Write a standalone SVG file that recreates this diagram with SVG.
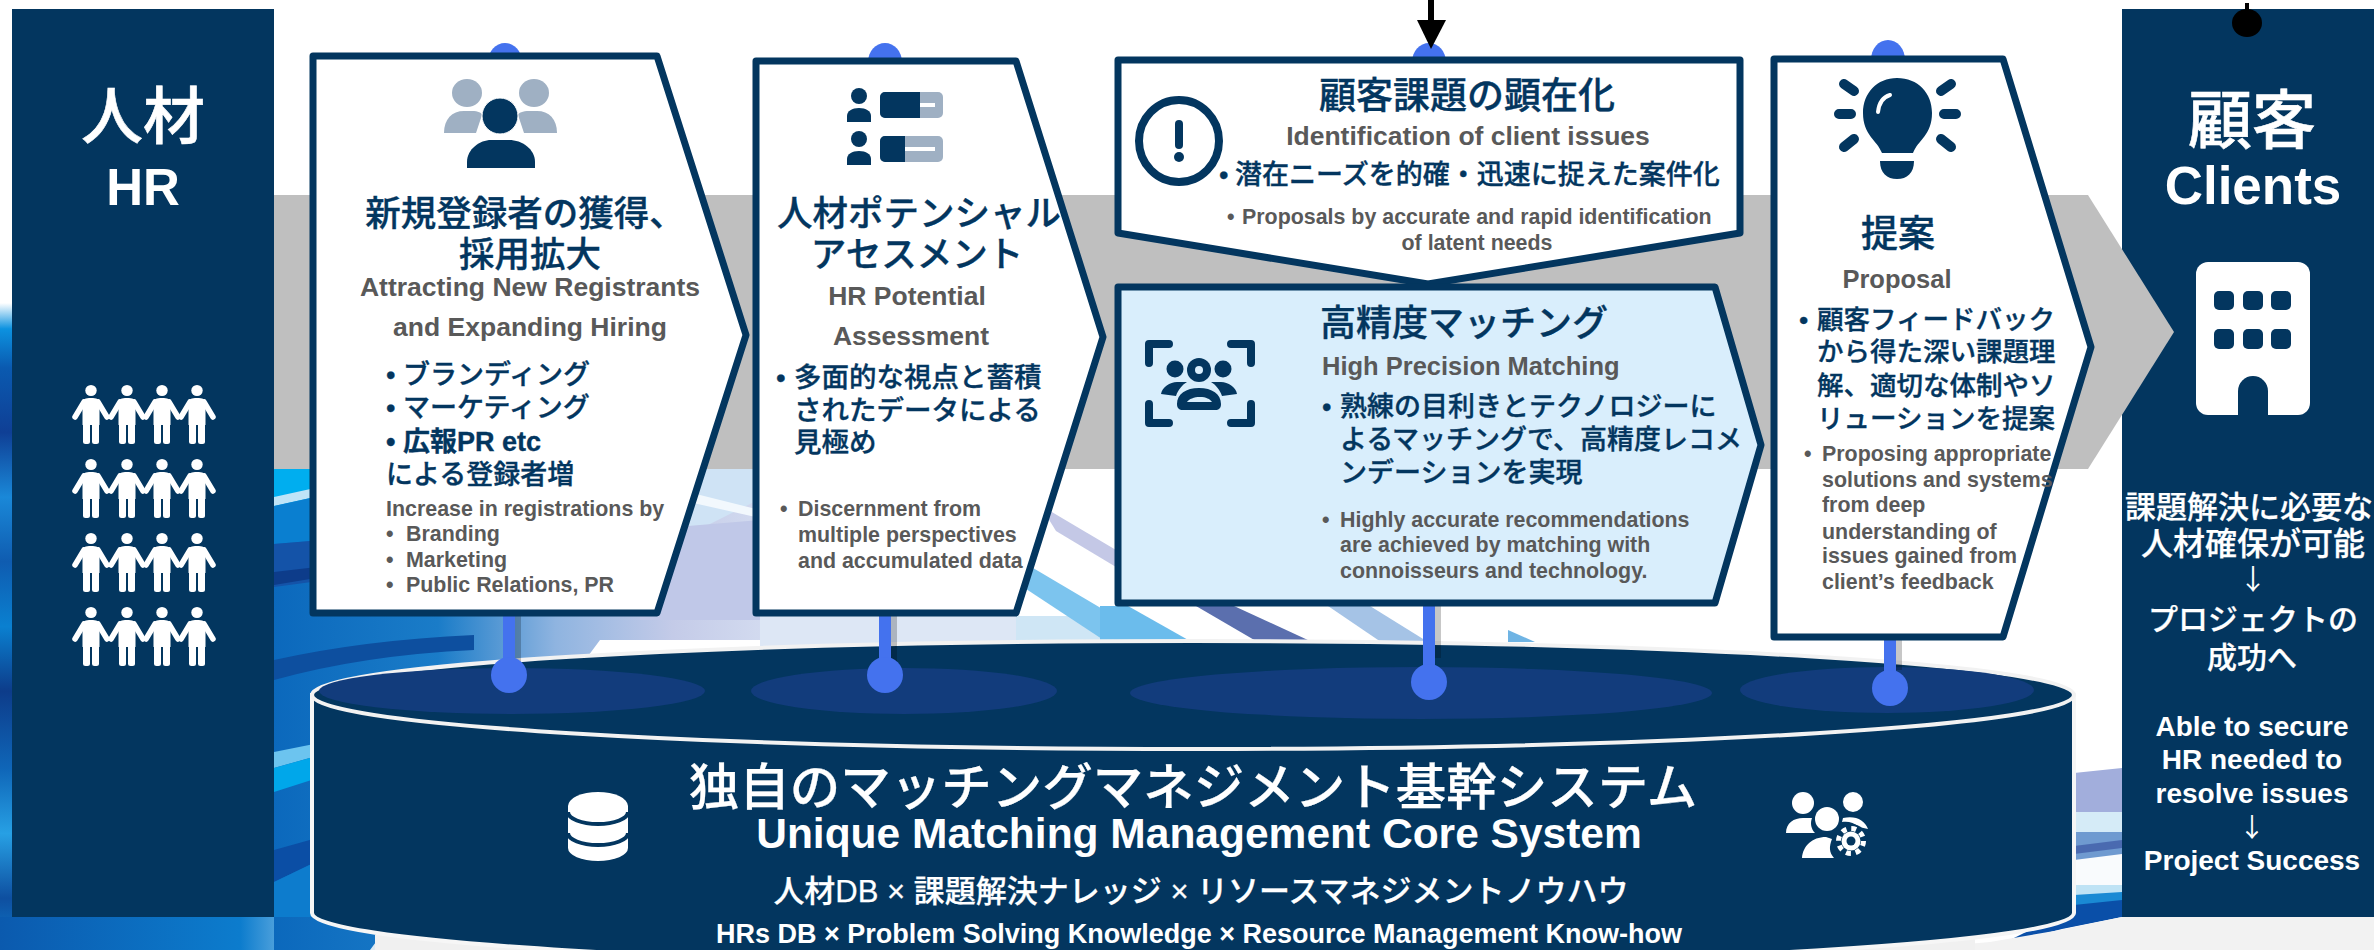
<svg xmlns="http://www.w3.org/2000/svg" width="2374" height="950" viewBox="0 0 2374 950">
<defs>
<style>
text{font-family:"Liberation Sans","Noto Sans CJK JP",sans-serif}
.jt{fill:#03365f;stroke:#03365f;stroke-width:.35;font-weight:500}
.en{fill:#595959;font-weight:700}
.w{fill:#fff}
.wj{fill:#fff;stroke:#fff;stroke-width:.25;font-weight:500}
.b{font-weight:700}
.ar{font-family:"Noto Sans CJK JP",sans-serif;fill:#fff}
.card{stroke:#03365f;stroke-width:7;stroke-linejoin:round;fill:#fff}
.pin{fill:#4472ee}
.nv{fill:#03365f}
.gy{fill:#9fb0c3}
</style>
<linearGradient id="bgL" gradientUnits="userSpaceOnUse" x1="270" y1="0" x2="1110" y2="0"><stop offset="0" stop-color="#0b68bc"/><stop offset=".2" stop-color="#1a7cc8"/><stop offset=".34" stop-color="#8fb4e0"/><stop offset=".48" stop-color="#c4cbe8"/><stop offset=".68" stop-color="#dfe8f6"/><stop offset=".9" stop-color="#f4f8fc"/><stop offset="1" stop-color="#ffffff"/></linearGradient>
<linearGradient id="bgS" x1="0" y1="0" x2="0" y2="1"><stop offset="0" stop-color="#ffffff"/><stop offset=".04" stop-color="#0c92e0"/><stop offset=".1" stop-color="#0a5ab0"/><stop offset=".2" stop-color="#0f3f95"/><stop offset=".3" stop-color="#1a88d8"/><stop offset=".4" stop-color="#0f5cb0"/><stop offset=".5" stop-color="#0a80d0"/><stop offset=".6" stop-color="#0d3c8a"/><stop offset=".72" stop-color="#0f66b8"/><stop offset=".82" stop-color="#27a0e4"/><stop offset=".92" stop-color="#0e4fa0"/><stop offset="1" stop-color="#0d7ccd"/></linearGradient>
<linearGradient id="bgB" gradientUnits="userSpaceOnUse" x1="0" y1="0" x2="400" y2="0"><stop offset="0" stop-color="#0b5aae"/><stop offset=".6" stop-color="#0c7ccd"/><stop offset=".85" stop-color="#bfe0f6"/><stop offset="1" stop-color="#f0f0f0"/></linearGradient>
<g id="p"><ellipse cx="0" cy="5.5" rx="5.7" ry="5.5" fill="#fff"/><path d="M-8.5 16c0-1.500 3-3 8.500-3s8.500 1.500 8.500 3v24h-17z" fill="#fff"/><rect x="-8" y="34" width="7" height="25" rx="2.500" fill="#fff"/><rect x="1" y="34" width="7" height="25" rx="2.500" fill="#fff"/><path d="M-7 17L-16 32M7 17L16 32" stroke="#fff" stroke-width="5.500" stroke-linecap="round"/></g>
<g id="row"><use href="#p" x="91"/><use href="#p" x="127"/><use href="#p" x="162"/><use href="#p" x="197"/></g>
</defs>
<rect width="2374" height="950" fill="#fff"/>
<g id="background">
<rect x="0" y="303" width="12" height="647" fill="url(#bgS)"/>
<rect x="0" y="917" width="400" height="33" fill="url(#bgB)"/>
<path d="M274 469H760V640H600L370 950H274Z" fill="url(#bgL)"/>
<path d="M274 469h50v30l-50 8z" fill="#00aeef"/>
<path d="M274 497l50-11v9l-50 11z" fill="#bfe4f8"/>
<path d="M274 506l50-11v45l-50 4z" fill="#0a7fd0"/>
<path d="M274 544l60-5v40l-60 8z" fill="#1453a8"/>
<path d="M274 572l60-7v10l-60 10z" fill="#0d3c8a"/>
<path d="M274 660q90-20 200-25v15q-110 5-200 30z" fill="#0d4f9f"/>
<path d="M274 752l50-10v12l-50 14z" fill="#6cc4ef"/>
<path d="M274 768l50-14v22l-50 16z" fill="#00a7ea"/>
<path d="M274 850l50-14v22l-50 24z" fill="#0b4ea5"/>
<path d="M274 882l50-24v59h-50z" fill="#0d7ccd"/>
<path d="M650 469h110v30l-80 40-40-10z" fill="#cfe3f5"/>
<path d="M680 490l80 20v8l-80-18z" fill="#f2f8fd"/>
<path d="M640 530l120-10v100h-120z" fill="#c0c8e8"/>
<path d="M760 616h260v34H760z" fill="#dde7f5"/>
<path d="M1016 616h100v30h-100z" fill="#cfe6f5"/>
<path d="M1040 505l76 45v17l-60-36z" fill="#c4c8e6"/>
<path d="M1028 565l88 52v22h-14l-85-56z" fill="#7cc4ee"/>
<path d="M1100 606h28l62 35h-90z" fill="#6bbcec"/>
<path d="M1196 606h38l76 35h-54z" fill="#5b6fae"/>
<path d="M1328 606h42l58 36h-47z" fill="#a5c3e6"/>
<path d="M1508 630l27 12h-27z" fill="#6fb4e4"/>
<path d="M2074 773l48-5v44h-48z" fill="#a2aedc"/>
<path d="M2074 812h48v20h-48z" fill="#d5ebf7"/>
<path d="M2074 832h48v28h-48z" fill="#6f9ad0"/>
<path d="M2074 846l48-6v8l-48 6z" fill="#4a6ab0"/>
<path d="M2074 860l48-6v36h-48z" fill="#f9fbfd"/>
<path d="M2074 885h48v10h-48z" fill="#bfe3f5"/>
<path d="M2074 895l48-3v10l-48 5z" fill="#1a8ad4"/>
<path d="M2074 905l48-5v17l-60 12-62 16 60-30z" fill="#0a4fa8"/>
<path d="M2122 917H2374V950H1900L1990 942 2060 930Z" fill="#f2f2f2"/>
<rect x="375" y="935" width="1600" height="15" fill="#f0f0f0"/>
</g>
<rect x="274" y="195" width="1814" height="274" fill="#bfbfbf"/>
<g id="panel-hr"><rect x="12" y="9" width="262" height="908" class="nv"/>
<text x="143" y="139" font-size="62" text-anchor="middle" class="wj" style="stroke-width:.6">人材</text>
<text x="143" y="205" font-size="51" text-anchor="middle" class="w b">HR</text>
<use href="#row" y="385"/><use href="#row" y="459"/><use href="#row" y="533"/><use href="#row" y="607"/></g>
<g id="panel-clients"><rect x="2122" y="9" width="252" height="908" class="nv"/>
<path d="M2088 195L2174 332L2088 469H2060V195Z" fill="#bfbfbf"/>
<text x="2252" y="143" font-size="64" text-anchor="middle" class="wj" style="stroke-width:.6">顧客</text>
<text x="2253" y="204" font-size="53" text-anchor="middle" class="w b">Clients</text>
<rect x="2196" y="262" width="114" height="153" rx="12" fill="#fff"/>
<g class="nv"><rect x="2214" y="291" width="20" height="19" rx="5"/><rect x="2243" y="291" width="20" height="19" rx="5"/><rect x="2271" y="291" width="20" height="19" rx="5"/><rect x="2214" y="329" width="20" height="20" rx="5"/><rect x="2243" y="329" width="20" height="20" rx="5"/><rect x="2271" y="329" width="20" height="20" rx="5"/><path d="M2238 415v-24a15 15 0 0 1 30 0v24z"/></g>
<g class="wj" text-anchor="middle"><text x="2249" y="518" font-size="31">課題解決に必要な</text><text x="2253" y="555" font-size="32">人材確保が可能</text><text x="2253" y="630" font-size="30">プロジェクトの</text><text x="2252" y="668" font-size="30">成功へ</text></g>
<text x="2253" y="590" font-size="28" text-anchor="middle" class="ar">↓</text>
<g class="w b" text-anchor="middle" font-size="28"><text x="2252" y="736">Able to secure</text><text x="2252" y="769">HR needed to</text><text x="2252" y="803">resolve issues</text><text x="2252" y="870">Project Success</text></g>
<text x="2252" y="837" font-size="26" text-anchor="middle" class="ar">↓</text></g>
<g id="connectors">
<g class="pin"><ellipse cx="505" cy="62" rx="17" ry="19"/><ellipse cx="885" cy="62" rx="17" ry="19"/><ellipse cx="1429" cy="62" rx="17" ry="19"/><ellipse cx="1888" cy="60" rx="17" ry="20"/></g>
</g>
<g id="cylinder">
<path d="M312 695V913A881 53 0 0 0 2074 913V695Z" class="nv" stroke="#f6f6f6" stroke-width="4"/>
<ellipse cx="1193" cy="695" rx="881" ry="54" class="nv" stroke="#f2f2f2" stroke-width="4"/>
<g fill="#123c7c"><ellipse cx="512" cy="691" rx="193" ry="23"/><ellipse cx="904" cy="691" rx="153" ry="23"/><ellipse cx="1421" cy="693" rx="291" ry="26"/><ellipse cx="1887" cy="690" rx="147" ry="23"/></g>
<g text-anchor="middle"><text x="1193" y="805" font-size="50.500" class="wj">独自のマッチングマネジメント基幹システム</text><text x="1199" y="848" font-size="42.500" class="w b">Unique Matching Management Core System</text><text x="1201" y="902" font-size="31" class="wj">人材DB × 課題解決ナレッジ × リソースマネジメントノウハウ</text><text x="1199" y="943" font-size="27" class="w b">HRs DB × Problem Solving Knowledge × Resource Management Know-how</text></g>
<g id="icon-db"><path d="M568 806a30 14 0 0 1 60 0v42a30 13 0 0 1-60 0z" fill="#fff"/><path d="M568 812a30 12 0 0 0 60 0M568 833a30 12 0 0 0 60 0" fill="none" stroke="#03365f" stroke-width="4"/></g>
<g id="icon-team"><g fill="#fff"><circle cx="1803" cy="803" r="11"/><circle cx="1853" cy="802" r="10"/><path d="M1786 833c0-10 8-15 17-15h9c-2 5-1 11 3 15z"/><path d="M1843 818c12-3 22 2 25 11l-9-2c-5-5-12-6-17-5z"/><circle cx="1827" cy="819" r="12"/><path d="M1802 858c1-12 10-21 24-21l6 2c-3 8-3 13 2 19z"/></g>
<circle cx="1851" cy="841" r="17" class="nv"/><circle cx="1851" cy="841" r="9.500" fill="#fff"/><circle cx="1851" cy="841" r="12.500" fill="none" stroke="#fff" stroke-width="5" stroke-dasharray="5 4.800"/><circle cx="1851" cy="841" r="4.500" class="nv"/></g>
</g>
<g id="pins"><g fill="#000" opacity=".22"><rect x="515" y="612" width="6" height="50"/><rect x="891" y="612" width="6" height="50"/><rect x="1435" y="602" width="6" height="56"/><rect x="1896" y="635" width="6" height="35"/></g>
<g class="pin"><rect x="503" y="610" width="12" height="60"/><ellipse cx="509" cy="675" rx="18" ry="18"/><rect x="879" y="610" width="12" height="60"/><ellipse cx="885" cy="675" rx="18" ry="18"/><rect x="1423" y="600" width="12" height="70"/><ellipse cx="1429" cy="682" rx="18" ry="18"/><rect x="1884" y="635" width="12" height="40"/><ellipse cx="1890" cy="688" rx="18" ry="18"/></g></g>
<g id="node-registrants"><path class="card" d="M313 56H657L746 335L657 613H313Z"/>
<g class="gy"><ellipse cx="467" cy="93" rx="15" ry="14"/><ellipse cx="534" cy="93" rx="15" ry="14"/><path d="M444 133c0-14 8-22 20-22h8c6 0 10 2 10 4l-6 18z"/><path d="M557 133c0-14-8-22-20-22h-8c-6 0-11 2-11 4l6 18z"/></g>
<g class="nv"><ellipse cx="500" cy="116" rx="18" ry="18" stroke="#fff"/><path d="M467 168v-6c0-13 13-22 24-22h18c13 0 26 9 26 22v6z"/></g>
<g class="jt" text-anchor="middle" font-size="35.500"><text x="525" y="226">新規登録者の獲得、</text><text x="530" y="267">採用拡大</text></g>
<g class="en" text-anchor="middle" font-size="26.500"><text x="530" y="296">Attracting New Registrants</text><text x="530" y="336">and Expanding Hiring</text></g>
<g class="jt" font-size="27"><text x="386" y="384">• ブランディング</text><text x="386" y="417">• マーケティング</text><text x="386" y="451" class="b">• 広報PR etc</text><text x="386" y="484">による登録者増</text></g>
<g class="en" font-size="21.400"><text x="386" y="516">Increase in registrations by</text><text x="386" y="541">•</text><text x="406" y="541">Branding</text><text x="386" y="567">•</text><text x="406" y="567">Marketing</text><text x="386" y="592">•</text><text x="406" y="592">Public Relations, PR</text></g></g>
<g id="node-assessment"><path class="card" d="M756 61H1016L1103 337L1016 613H756Z"/>
<g class="nv"><ellipse cx="859" cy="96" rx="8" ry="8"/><path d="M847 122v-6c0-5 5-8 12-8s12 3 12 8v6z"/><ellipse cx="859" cy="139" rx="8" ry="8"/><path d="M847 165v-6c0-5 5-8 12-8s12 3 12 8v6z"/></g>
<rect x="880" y="92" width="63" height="26" rx="5" class="gy"/><rect x="880" y="136" width="63" height="26" rx="5" class="gy"/><rect x="920" y="103" width="15" height="4" fill="#fff"/><rect x="905" y="147" width="30" height="4" fill="#fff"/>
<path class="nv" d="M885 92h35v26h-35a5 5 0 0 1-5-5v-16a5 5 0 0 1 5-5zM885 136h20v26h-20a5 5 0 0 1-5-5v-16a5 5 0 0 1 5-5z"/>
<g class="jt" text-anchor="middle" font-size="35.500"><text x="919" y="226">人材ポテンシャル</text><text x="917" y="267">アセスメント</text></g>
<g class="en" text-anchor="middle" font-size="26.500"><text x="907" y="305">HR Potential</text><text x="911" y="345">Assessment</text></g>
<g class="jt" font-size="27.500"><text x="776" y="387">•</text><text x="794" y="387">多面的な視点と蓄積</text><text x="794" y="420">されたデータによる</text><text x="794" y="452">見極め</text></g>
<g class="en" font-size="21.400"><text x="780" y="516">•</text><text x="798" y="516">Discernment from</text><text x="798" y="542">multiple perspectives</text><text x="798" y="568">and accumulated data</text></g></g>
<g id="node-identification"><path class="card" d="M1118 60H1740V233L1428 284L1118 233Z"/>
<ellipse cx="1179" cy="141" rx="40" ry="41" fill="none" stroke="#03365f" stroke-width="8"/><rect x="1175" y="120" width="8" height="29" rx="4" class="nv"/><circle cx="1179" cy="157" r="5" class="nv"/>
<text x="1467" y="109" class="jt" font-size="37" text-anchor="middle">顧客課題の顕在化</text>
<text x="1468" y="145" class="en" font-size="26.500" text-anchor="middle">Identification of client issues</text>
<text x="1219" y="184" class="jt" font-size="27">•</text><text x="1235" y="184" class="jt" font-size="27">潜在ニーズを的確・迅速に捉えた案件化</text>
<text x="1227" y="224" class="en" font-size="21.400">•</text><text x="1242" y="224" class="en" font-size="21.400">Proposals by accurate and rapid identification</text><text x="1477" y="250" class="en" font-size="21.400" text-anchor="middle">of latent needs</text></g>
<g id="node-matching"><path class="card" d="M1118 287H1715L1761 445L1715 603H1118Z" style="fill:#d9eefc"/>
<g fill="none" stroke="#03365f" stroke-width="8" stroke-linejoin="round" stroke-linecap="round"><path d="M1149 363v-19h20M1231 344h20v19M1149 404v19h20M1231 423h20v-19"/></g>
<g class="nv"><circle cx="1199" cy="370" r="12"/><circle cx="1175" cy="369" r="8.500"/><circle cx="1223" cy="369" r="8.500"/><path d="M1161 394c1-7 9-12 16-12h10c-5 3-9 8-11 14zM1237 394c-1-7-9-12-16-12h-10c5 3 9 8 11 14z"/><path fill-rule="evenodd" d="M1177 404c0-10 9-16 22-16s22 6 22 16c0 4-2 6-6 6h-32c-4 0-6-2-6-6zM1187 402h25c-2-3-6-5-12-5s-11 2-13 5z"/></g><circle cx="1199" cy="370" r="4" fill="#d9eefc"/>
<text x="1320" y="336" class="jt" font-size="36">高精度マッチング</text>
<text x="1322" y="375" class="en" font-size="25.500">High Precision Matching</text>
<g class="jt" font-size="27"><text x="1322" y="416">•</text><text x="1340" y="416">熟練の目利きとテクノロジーに</text><text x="1340" y="449">よるマッチングで、高精度レコメ</text><text x="1340" y="482">ンデーションを実現</text></g>
<g class="en" font-size="21.400"><text x="1322" y="527">•</text><text x="1340" y="527">Highly accurate recommendations</text><text x="1340" y="552">are achieved by matching with</text><text x="1340" y="578">connoisseurs and technology.</text></g></g>
<g id="node-proposal"><path class="card" d="M1774 59H2003L2091 347L2003 637H1774Z"/>
<g class="nv"><path d="M1897 78c-20 0-34 15-34 35 0 22 14 27 19 40h31c5-13 19-18 19-40 0-20-14-35-35-35z"/><path d="M1880 161h34c0 12-7 18-17 18s-17-6-17-18z"/></g>
<path d="M1878 112c1-9 5-15 12-17" fill="none" stroke="#fff" stroke-width="4" stroke-linecap="round"/>
<g fill="none" stroke="#03365f" stroke-width="10" stroke-linecap="round"><path d="M1839 114h12M1944 114h12M1844 84l10 7M1951 84l-10 7M1844 147l10-8M1951 147l-10-8"/></g>
<text x="1898" y="247" class="jt" font-size="37" text-anchor="middle">提案</text>
<text x="1897" y="288" class="en" font-size="25.500" text-anchor="middle">Proposal</text>
<g class="jt" font-size="26.500"><text x="1799" y="329">•</text><text x="1817" y="329">顧客フィードバック</text><text x="1817" y="361">から得た深い課題理</text><text x="1817" y="395">解、適切な体制やソ</text><text x="1817" y="428">リューションを提案</text></g>
<g class="en" font-size="21.400"><text x="1804" y="461">•</text><text x="1822" y="461">Proposing appropriate</text><text x="1822" y="487">solutions and systems</text><text x="1822" y="512">from deep</text><text x="1822" y="539">understanding of</text><text x="1822" y="563">issues gained from</text><text x="1822" y="589">client’s feedback</text></g></g>
<g id="top-arrow"><rect x="1428" y="0" width="6" height="20"/><path d="M1417 20H1446L1431 49Z"/><ellipse cx="2247" cy="23" rx="15" ry="14"/><rect x="2245" y="3" width="4" height="8"/></g>
</svg>
